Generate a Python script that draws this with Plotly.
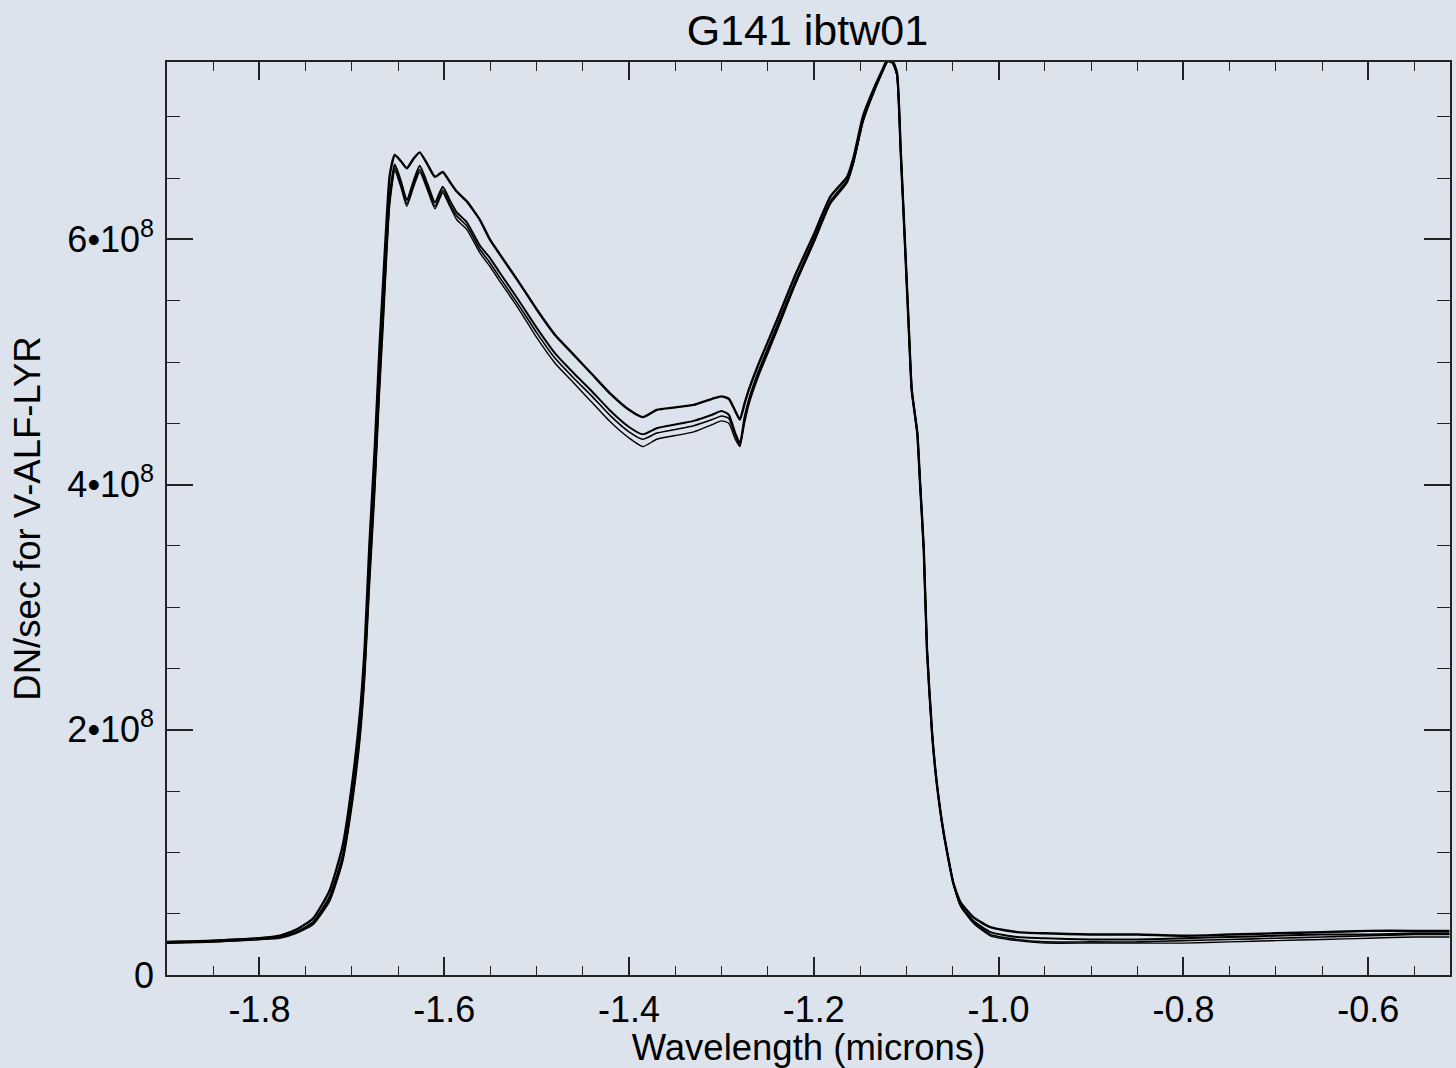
import plotly.graph_objects as go

# Wavelength grid (microns, shown as negative values as in the original)
wavelength = [
    -1.900, -1.850, -1.800, -1.778, -1.760, -1.742, -1.724, -1.710, -1.699, -1.691,
    -1.686, -1.681, -1.675, -1.670, -1.666, -1.662, -1.659, -1.6535, -1.647, -1.6405,
    -1.633, -1.6265, -1.618, -1.610, -1.6016, -1.594, -1.5864, -1.5755, -1.5614, -1.5506,
    -1.540, -1.520, -1.500, -1.480, -1.460, -1.440, -1.420, -1.400, -1.385, -1.370,
    -1.350, -1.330, -1.310, -1.300, -1.292, -1.285, -1.280, -1.275, -1.270, -1.260,
    -1.240, -1.220, -1.200, -1.182, -1.164, -1.157, -1.147, -1.139, -1.126, -1.120,
    -1.115, -1.110, -1.106, -1.101, -1.097, -1.094, -1.088, -1.085, -1.081, -1.0775,
    -1.072, -1.067, -1.0595, -1.049, -1.041, -1.027, -1.009, -0.980, -0.950, -0.900,
    -0.850, -0.800, -0.750, -0.700, -0.650, -0.600, -0.550, -0.512,
]

# DN/sec in units of 1e8, one list per exposure
spec_1 = [
    0.27, 0.28, 0.30, 0.32, 0.37, 0.46, 0.69, 1.05, 1.60, 2.15,
    2.68, 3.50, 4.32, 5.12, 5.66, 6.20, 6.52, 6.69, 6.64, 6.58,
    6.66, 6.71, 6.61, 6.51, 6.55, 6.47, 6.39, 6.31, 6.16, 6.00,
    5.88, 5.66, 5.43, 5.22, 5.06, 4.90, 4.74, 4.61, 4.55, 4.61,
    4.63, 4.65, 4.70, 4.72, 4.70, 4.60, 4.53, 4.66, 4.78, 4.98,
    5.34, 5.71, 6.04, 6.35, 6.51, 6.67, 7.00, 7.16, 7.38, 7.47,
    7.46, 7.36, 6.73, 5.91, 5.24, 4.77, 4.42, 4.01, 3.47, 2.65,
    1.97, 1.57, 1.16, 0.75, 0.59, 0.47, 0.39, 0.35, 0.34, 0.33,
    0.33, 0.32, 0.33, 0.34, 0.35, 0.36, 0.36, 0.36,
]
spec_2 = [
    0.27, 0.28, 0.30, 0.31, 0.35, 0.43, 0.64, 0.97, 1.50, 2.03,
    2.53, 3.30, 4.10, 4.90, 5.45, 6.02, 6.36, 6.61, 6.48, 6.32,
    6.48, 6.60, 6.45, 6.30, 6.43, 6.32, 6.22, 6.14, 5.95, 5.85,
    5.73, 5.51, 5.28, 5.07, 4.91, 4.76, 4.60, 4.47, 4.41, 4.46,
    4.49, 4.52, 4.57, 4.60, 4.57, 4.42, 4.34, 4.55, 4.70, 4.92,
    5.29, 5.66, 6.00, 6.31, 6.48, 6.64, 6.97, 7.14, 7.37, 7.46,
    7.45, 7.35, 6.73, 5.91, 5.24, 4.77, 4.42, 4.01, 3.47, 2.65,
    1.97, 1.57, 1.16, 0.75, 0.57, 0.44, 0.35, 0.31, 0.30, 0.29,
    0.29, 0.30, 0.31, 0.32, 0.33, 0.33, 0.34, 0.34,
]
spec_3 = [
    0.26, 0.27, 0.29, 0.31, 0.35, 0.42, 0.62, 0.94, 1.46, 1.98,
    2.48, 3.22, 4.02, 4.82, 5.38, 5.96, 6.32, 6.58, 6.45, 6.29,
    6.45, 6.57, 6.42, 6.27, 6.40, 6.29, 6.19, 6.11, 5.92, 5.81,
    5.69, 5.47, 5.24, 5.03, 4.87, 4.72, 4.56, 4.43, 4.37, 4.42,
    4.45, 4.48, 4.53, 4.56, 4.54, 4.40, 4.32, 4.53, 4.68, 4.90,
    5.27, 5.64, 5.98, 6.30, 6.47, 6.63, 6.96, 7.13, 7.36, 7.45,
    7.44, 7.34, 6.73, 5.91, 5.24, 4.77, 4.42, 4.01, 3.47, 2.65,
    1.97, 1.57, 1.16, 0.75, 0.56, 0.43, 0.33, 0.29, 0.27, 0.27,
    0.27, 0.28, 0.29, 0.30, 0.31, 0.32, 0.33, 0.33,
]
spec_4 = [
    0.26, 0.27, 0.29, 0.30, 0.34, 0.41, 0.60, 0.92, 1.42, 1.93,
    2.42, 3.15, 3.95, 4.75, 5.30, 5.90, 6.28, 6.56, 6.43, 6.27,
    6.43, 6.55, 6.40, 6.25, 6.38, 6.27, 6.16, 6.08, 5.89, 5.78,
    5.66, 5.44, 5.20, 4.99, 4.83, 4.67, 4.51, 4.38, 4.31, 4.37,
    4.40, 4.43, 4.49, 4.52, 4.50, 4.37, 4.31, 4.50, 4.66, 4.88,
    5.25, 5.63, 5.97, 6.29, 6.46, 6.62, 6.95, 7.12, 7.36, 7.45,
    7.44, 7.34, 6.73, 5.91, 5.24, 4.77, 4.42, 4.01, 3.47, 2.65,
    1.97, 1.57, 1.16, 0.75, 0.56, 0.42, 0.32, 0.28, 0.26, 0.26,
    0.26, 0.26, 0.27, 0.28, 0.29, 0.30, 0.31, 0.31,
]

series = [spec_1, spec_2, spec_3, spec_4]
line_widths = [2.4, 2.0, 1.6, 1.4]

x_tick_vals = [-1.8, -1.6, -1.4, -1.2, -1.0, -0.8, -0.6]
x_tick_text = ["-1.8", "-1.6", "-1.4", "-1.2", "-1.0", "-0.8", "-0.6"]
y_tick_vals = [0, 2e8, 4e8, 6e8]
y_tick_text = ["0", "2•10<sup>8</sup>", "4•10<sup>8</sup>", "6•10<sup>8</sup>"]

BG = "#dce3ec"
FONT = "Liberation Sans, Arial, Helvetica, sans-serif"

fig = go.Figure()
for s, w in zip(series, line_widths):
    fig.add_trace(go.Scatter(
        x=wavelength, y=[v * 1e8 for v in s], mode="lines",
        line=dict(color="black", width=w, shape="spline", smoothing=0.5),
        showlegend=False, hoverinfo="skip",
    ))

axis_common = dict(
    showline=True, linecolor="#222222", linewidth=1.5, mirror="ticks",
    ticks="inside", tickcolor="#222222", tickwidth=1.5,
    showgrid=False, zeroline=False,
    tickfont=dict(family=FONT, size=36, color="black"),
)

fig.update_xaxes(
    range=[-1.9, -0.5115], tickmode="array", tickvals=x_tick_vals, ticktext=x_tick_text,
    ticklen=18,
    minor=dict(tickmode="linear", tick0=-1.8, dtick=0.05, ticklen=9, ticks="inside",
               tickcolor="#222222", tickwidth=1.3),
    title=dict(text="Wavelength (microns)", font=dict(family=FONT, size=36.5, color="black"),
               standoff=2),
    ticklabelstandoff=2,
    **axis_common,
)
fig.update_yaxes(
    range=[0, 7.447e8], tickmode="array", tickvals=y_tick_vals, ticktext=y_tick_text,
    ticklen=26,
    minor=dict(tickmode="linear", tick0=0, dtick=0.5e8, ticklen=13, ticks="inside",
               tickcolor="#222222", tickwidth=1.3),
    title=dict(text="DN/sec for V-ALF-LYR", font=dict(family=FONT, size=36.5, color="black"),
               standoff=16),
    ticklabelstandoff=4,
    **axis_common,
)

fig.update_layout(
    width=1456, height=1068,
    margin=dict(l=167, r=6, t=62, b=93, autoexpand=False),
    paper_bgcolor=BG, plot_bgcolor=BG,
    title=dict(text="G141 ibtw01", x=0.5545, xanchor="center", y=0.972, yanchor="middle",
               font=dict(family=FONT, size=43, color="black")),
)

fig.write_html("out.html")
